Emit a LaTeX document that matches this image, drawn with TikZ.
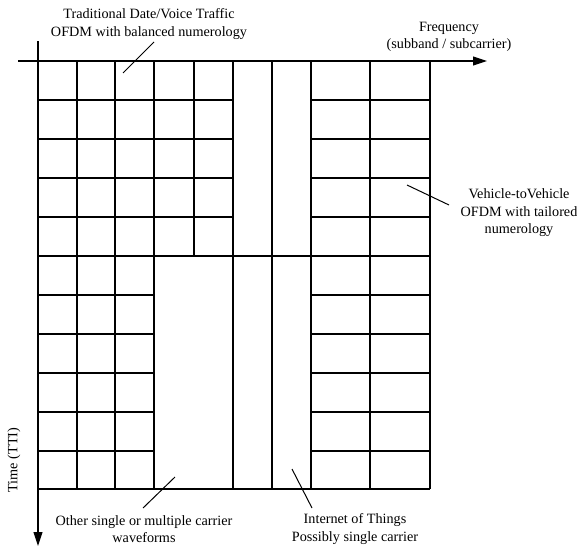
\documentclass[tikz,border=0pt]{standalone}
\usepackage{fontspec}
\setmainfont{Liberation Serif}
\usetikzlibrary{arrows.meta}
\begin{document}
\begin{tikzpicture}[x=1pt,y=-1pt,
  gridline/.style={line width=1.1pt, black},
  axisline/.style={line width=1.1pt, -{Triangle[length=14pt,width=9pt]}},
  lbl/.style={align=center, font=\fontsize{14.2}{17.5}\selectfont, inner sep=0pt},
  ptr/.style={line width=1pt}]
\useasboundingbox (0,0) rectangle (577,546);
% grid
\foreach \x in {77,115,154,233,272,311,370,430} \draw[gridline] (\x,61) -- (\x,489);
\draw[gridline] (194,61) -- (194,256);
\foreach \y in {100,139,178,217} \draw[gridline] (38,\y) -- (233,\y);
\draw[gridline] (38,256) -- (430,256);
\foreach \y in {295,334,373,412,451} \draw[gridline] (38,\y) -- (154,\y);
\foreach \y in {100,139,178,217,295,334,373,412,451} \draw[gridline] (311,\y) -- (430,\y);
\draw[gridline] (38,489) -- (430,489);
% axes
\coordinate (fstart) at (18,61);
\coordinate (fend) at (487,61);
\coordinate (tstart) at (38,41);
\coordinate (tend) at (38,546);
\draw[axisline] (fstart) -- (fend);
\draw[axisline] (tstart) -- (tend);
% labels
\node[lbl] (trad) at (149,24) {Traditional Date/Voice Traffic\\OFDM with balanced numerology};
\node[lbl] (freq) at (449,37) {Frequency\\(subband / subcarrier)};
\node[lbl] (v2v) at (519,213) {Vehicle-toVehicle\\OFDM with tailored\\numerology};
\node[lbl] (other) at (144,529) {Other single or multiple carrier\\waveforms};
\node[lbl] (iot) at (355,529) {Internet of Things\\Possibly single carrier};
\node[lbl, rotate=90] (time) at (14,460) {Time (TTI)};
% pointers
\coordinate (p1a) at (154,42); \coordinate (p1b) at (123,73);
\coordinate (p2a) at (407,185); \coordinate (p2b) at (449,205);
\coordinate (p3a) at (175,477); \coordinate (p3b) at (143,508);
\coordinate (p4a) at (292,469); \coordinate (p4b) at (312,508);
\draw[ptr] (p1a) -- (p1b);
\draw[ptr] (p2a) -- (p2b);
\draw[ptr] (p3a) -- (p3b);
\draw[ptr] (p4a) -- (p4b);
\end{tikzpicture}
\end{document}
